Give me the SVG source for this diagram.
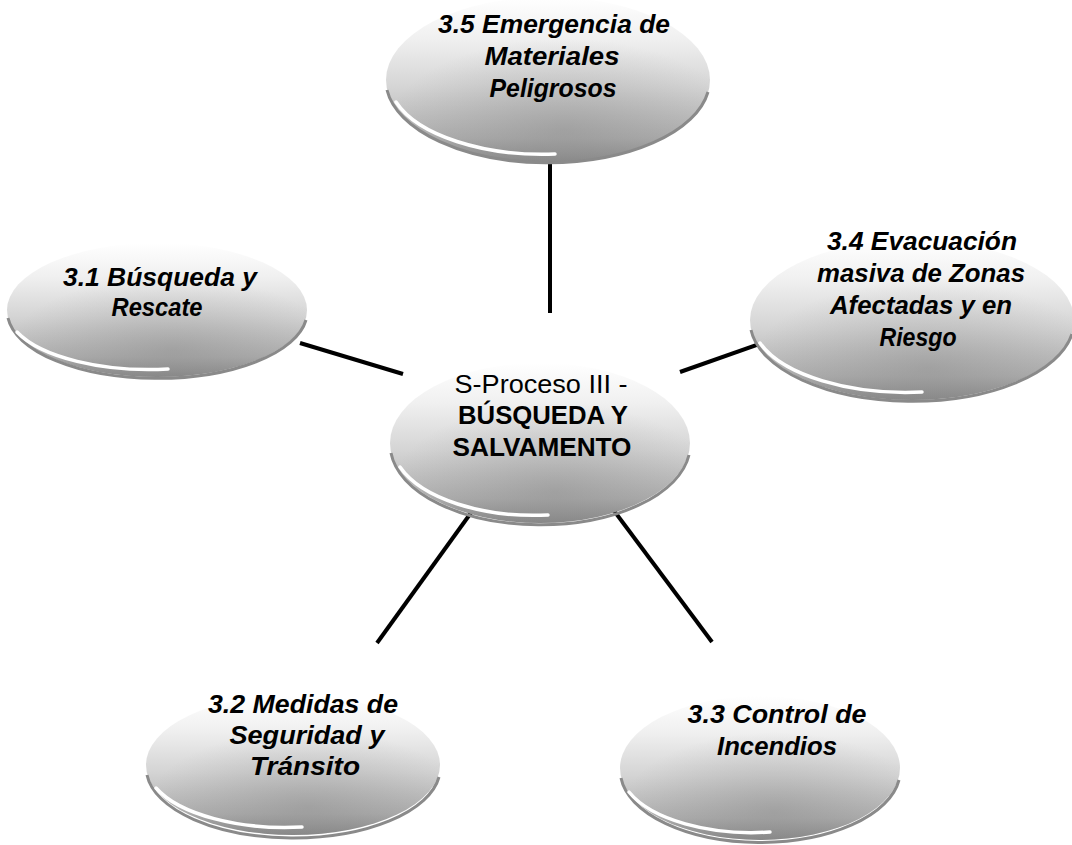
<svg xmlns="http://www.w3.org/2000/svg" width="1072" height="845" viewBox="0 0 1072 845">
<defs>
<linearGradient id="gBody" x1="0" y1="0" x2="0" y2="1">
<stop offset="0" stop-color="#ffffff"/>
<stop offset="0.25" stop-color="#f0f0f0"/>
<stop offset="0.55" stop-color="#d4d4d4"/>
<stop offset="0.85" stop-color="#b0b0b0"/>
<stop offset="1" stop-color="#8c8c8c"/>
</linearGradient>
<radialGradient id="gShade" cx="0.55" cy="0.8" r="0.55">
<stop offset="0" stop-color="#7a7a7a" stop-opacity="0.35"/>
<stop offset="1" stop-color="#7a7a7a" stop-opacity="0"/>
</radialGradient>
<style>
.body{fill:url(#gBody)}
.shade{fill:url(#gShade)}
.rim{fill:none;stroke:#8a8a8a;stroke-width:3}
.gloss{fill:none;stroke:#ffffff;stroke-width:3.5;stroke-linecap:round}
.lbl{font-family:"Liberation Sans",Arial,sans-serif;font-weight:bold;font-style:italic;font-size:25px;fill:#000;text-anchor:middle}
.ctr{font-family:"Liberation Sans",Arial,sans-serif;font-size:25px;fill:#000;text-anchor:middle}
.ctrb{font-weight:bold}
.conn{stroke:#000;stroke-width:4;fill:none;stroke-linecap:butt}
</style>
</defs>
<rect width="1072" height="845" fill="#ffffff"/>

<g id="connectors">
<line class="conn" x1="550" y1="160" x2="550" y2="313"/>
<line class="conn" x1="300" y1="343" x2="403" y2="374"/>
<line class="conn" x1="680" y1="372" x2="765" y2="342"/>
<line class="conn" x1="473" y1="510" x2="377" y2="643"/>
<line class="conn" x1="612" y1="508" x2="712" y2="642"/>
</g>

<g id="n35">
<ellipse class="body" cx="548" cy="80" rx="162" ry="83"/>
<ellipse class="shade" cx="548" cy="80" rx="162" ry="83"/>
<path class="rim" d="M 387 90 A 162 83 0 0 0 708 92"/>
<path class="gloss" d="M 396 102 A 154 75 0 0 0 555 154"/>
<text class="lbl"><tspan x="554" y="33" textLength="232" lengthAdjust="spacingAndGlyphs">3.5 Emergencia de</tspan><tspan x="552" y="65" textLength="135" lengthAdjust="spacingAndGlyphs">Materiales</tspan><tspan x="553" y="97" textLength="127" lengthAdjust="spacingAndGlyphs">Peligrosos</tspan></text>
</g>

<g id="n31">
<ellipse class="body" cx="157" cy="310" rx="150" ry="67"/>
<ellipse class="shade" cx="157" cy="310" rx="150" ry="67"/>
<path class="rim" d="M 8 318 A 150 67 0 0 0 306 320"/>
<path class="gloss" d="M 17 332 A 142 59 0 0 0 168 369"/>
<text class="lbl"><tspan x="160" y="286" textLength="194" lengthAdjust="spacingAndGlyphs">3.1 Búsqueda y</tspan><tspan x="157" y="316" textLength="91" lengthAdjust="spacingAndGlyphs">Rescate</tspan></text>
</g>

<g id="n0">
<ellipse class="body" cx="540" cy="443" rx="150" ry="80"/>
<ellipse class="shade" cx="540" cy="443" rx="150" ry="80"/>
<path class="rim" d="M 391 453 A 150 80 0 0 0 689 455"/>
<path class="gloss" d="M 400 467 A 142 72 0 0 0 548 515"/>
<text class="ctr"><tspan x="541" y="393" textLength="173" lengthAdjust="spacingAndGlyphs">S-Proceso III -</tspan><tspan class="ctrb" x="543" y="424" textLength="170" lengthAdjust="spacingAndGlyphs">BÚSQUEDA Y</tspan><tspan class="ctrb" x="542" y="456" textLength="179" lengthAdjust="spacingAndGlyphs">SALVAMENTO</tspan></text>
</g>

<g id="n34">
<ellipse class="body" cx="912" cy="320" rx="162" ry="80"/>
<ellipse class="shade" cx="912" cy="320" rx="162" ry="80"/>
<path class="rim" d="M 751 330 A 162 80 0 0 0 1072 334"/>
<path class="gloss" d="M 760 343 A 154 72 0 0 0 922 392"/>
<text class="lbl"><tspan x="922" y="250" textLength="190" lengthAdjust="spacingAndGlyphs">3.4 Evacuación</tspan><tspan x="921" y="282" textLength="208" lengthAdjust="spacingAndGlyphs">masiva de Zonas</tspan><tspan x="921" y="314" textLength="182" lengthAdjust="spacingAndGlyphs">Afectadas y en</tspan><tspan x="918" y="346" textLength="77" lengthAdjust="spacingAndGlyphs">Riesgo</tspan></text>
</g>

<g id="n32">
<ellipse class="body" cx="293" cy="765" rx="147" ry="70"/>
<ellipse class="shade" cx="293" cy="765" rx="147" ry="70"/>
<path class="rim" d="M 147 775 A 147 70 0 0 0 439 777"/>
<path class="gloss" d="M 156 788 A 139 62 0 0 0 302 827"/>
<text class="lbl"><tspan x="303" y="713" textLength="190" lengthAdjust="spacingAndGlyphs">3.2 Medidas de</tspan><tspan x="307" y="744" textLength="155" lengthAdjust="spacingAndGlyphs">Seguridad y</tspan><tspan x="305" y="775" textLength="110" lengthAdjust="spacingAndGlyphs">Tránsito</tspan></text>
</g>

<g id="n33">
<ellipse class="body" cx="760" cy="768" rx="140" ry="72"/>
<ellipse class="shade" cx="760" cy="768" rx="140" ry="72"/>
<path class="rim" d="M 621 778 A 140 72 0 0 0 899 780"/>
<path class="gloss" d="M 629 792 A 132 64 0 0 0 770 832"/>
<text class="lbl"><tspan x="777" y="723" textLength="179" lengthAdjust="spacingAndGlyphs">3.3 Control de</tspan><tspan x="777" y="755" textLength="120" lengthAdjust="spacingAndGlyphs">Incendios</tspan></text>
</g>
</svg>
